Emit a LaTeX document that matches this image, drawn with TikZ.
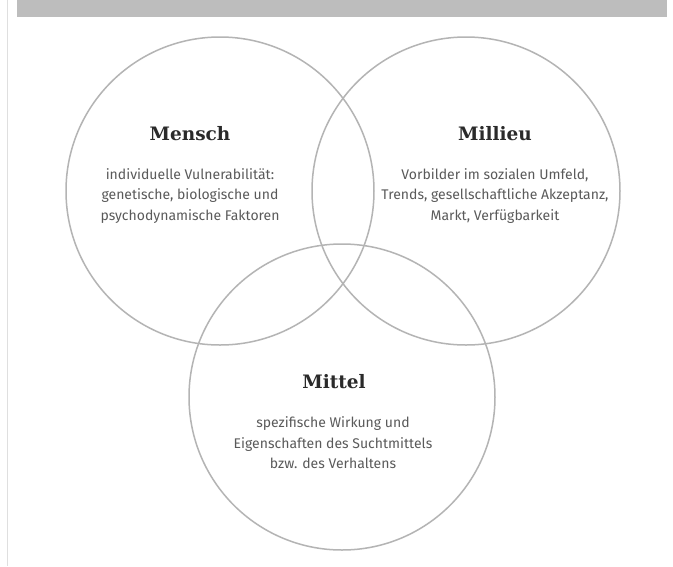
\documentclass[tikz,border=0pt]{standalone}
\usepackage{fontspec}
\setmainfont{Fira Sans}
\newfontfamily\titlefont{DejaVu Serif}
\definecolor{ringgray}{HTML}{B4B4B4}
\definecolor{bandgray}{HTML}{BDBDBD}
\definecolor{bodygray}{HTML}{5A5A5A}
\definecolor{titledark}{HTML}{2A2A2A}
\tikzset{
  ring/.style={draw=ringgray, line width=1.5pt, circle, inner sep=0pt, minimum size=#1},
  titletext/.style={font=\titlefont\bfseries\fontsize{18.5}{22}\selectfont, text=titledark},
  bodytext/.style={font=\fontsize{14}{20.5}\selectfont, text=bodygray, align=center}
}
\begin{document}
\begin{tikzpicture}[x=1pt,y=-1pt]
\useasboundingbox (0,0) rectangle (673,566);
\fill[white] (0,0) rectangle (673,566);
\draw[gray!25, line width=0.8pt] (7,0) -- (7,566);
\fill[bandgray] (17,0) rectangle (667,17);
\node[ring=308pt] (mensch) at (220,191) {};
\node[ring=308pt] (milieu) at (466,191) {};
\node[ring=306pt] (mittel) at (342,397) {};
\node[titletext] (t1) at (190,134) {Mensch};
\node[bodytext] (b1) at (190,196) {individuelle Vulnerabilität:\\genetische, biologische und\\psychodynamische Faktoren};
\node[titletext] (t2) at (495,134) {Millieu};
\node[bodytext] (b2) at (495,196) {Vorbilder im sozialen Umfeld,\\Trends, gesellschaftliche Akzeptanz,\\Markt, Verfügbarkeit};
\node[titletext] (t3) at (334,382) {Mittel};
\node[bodytext] (b3) at (333,443) {spezifische Wirkung und\\Eigenschaften des Suchtmittels\\bzw. des Verhaltens};
\end{tikzpicture}
\end{document}
